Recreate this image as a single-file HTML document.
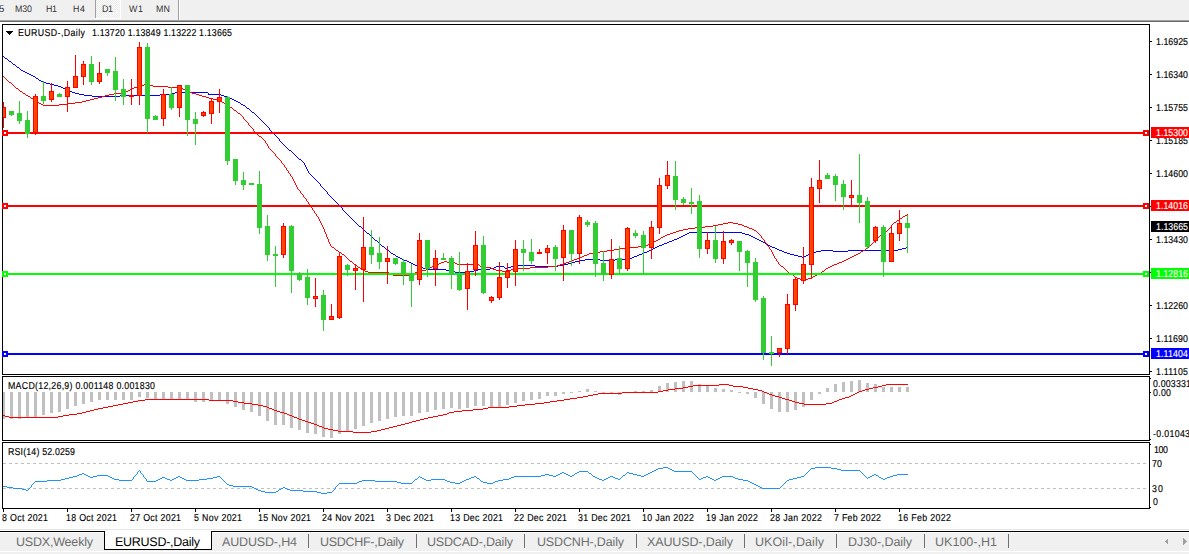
<!DOCTYPE html>
<html><head><meta charset="utf-8"><style>
html,body{margin:0;padding:0;background:#fff;overflow:hidden;}
svg{display:block;font-family:"Liberation Sans", sans-serif;}
text{font-family:"Liberation Sans", sans-serif;text-rendering:geometricPrecision;stroke-width:0.15px;}
</style></head><body>
<svg width="1189" height="554" viewBox="0 0 1189 554" shape-rendering="crispEdges">
<defs><pattern id="dither" x="0" y="0" width="2" height="2" patternUnits="userSpaceOnUse"><rect width="2" height="2" fill="#ffffff"/><rect width="1" height="1" fill="#e8e8e8"/><rect x="1" y="1" width="1" height="1" fill="#e8e8e8"/></pattern></defs>
<rect x="0" y="0" width="1189" height="554" fill="#ffffff"/>
<rect x="0" y="0" width="1189" height="20" fill="#f0f0f0"/>
<rect x="0" y="20" width="1189" height="1" fill="#a0a0a0"/>
<rect x="0" y="21" width="1189" height="1" fill="#696969"/>
<rect x="95" y="0" width="1" height="18" fill="#a0a0a0"/>
<rect x="96" y="0" width="24" height="18" fill="url(#dither)"/>
<rect x="95" y="18" width="26" height="1" fill="#ffffff"/>
<rect x="120" y="0" width="1" height="18" fill="#ffffff"/>
<rect x="178" y="0" width="1" height="20" fill="#a0a0a0"/>
<rect x="179" y="0" width="1" height="20" fill="#ffffff"/>
<text x="-1" y="12" fill="#333333" style="font-size:9.6px;">5</text>
<text transform="translate(15.00,0) scale(0.92,1)" x="0" y="12" fill="#333333" style="font-size:9.6px" textLength="18.48" lengthAdjust="spacing">M30</text>
<text transform="translate(46.00,0) scale(0.92,1)" x="0" y="12" fill="#333333" style="font-size:9.6px" textLength="11.96" lengthAdjust="spacing">H1</text>
<text transform="translate(73.00,0) scale(0.92,1)" x="0" y="12" fill="#333333" style="font-size:9.6px" textLength="13.05" lengthAdjust="spacing">H4</text>
<text transform="translate(102.00,0) scale(0.92,1)" x="0" y="12" fill="#333333" style="font-size:9.6px" textLength="11.96" lengthAdjust="spacing">D1</text>
<text transform="translate(129.00,0) scale(0.92,1)" x="0" y="12" fill="#333333" style="font-size:9.6px" textLength="15.22" lengthAdjust="spacing">W1</text>
<text transform="translate(156.00,0) scale(0.92,1)" x="0" y="12" fill="#333333" style="font-size:9.6px" textLength="15.22" lengthAdjust="spacing">MN</text>
<rect x="2.5" y="24.5" width="1147" height="350" fill="#fff" stroke="#000" stroke-width="1"/>
<rect x="2.5" y="376.5" width="1147" height="64" fill="#fff" stroke="#000" stroke-width="1"/>
<rect x="2.5" y="442.5" width="1147" height="66" fill="#fff" stroke="#000" stroke-width="1"/>
<clipPath id="cm"><rect x="3" y="25" width="1146" height="349"/></clipPath>
<clipPath id="cmacd"><rect x="3" y="377" width="1146" height="63"/></clipPath>
<clipPath id="crsi"><rect x="3" y="443" width="1146" height="65"/></clipPath>
<g clip-path="url(#cm)">
<path d="M3 56h1v1h-1zM4 57h1v1h-1zM5 58h2v1h-2zM7 59h1v1h-1zM8 60h1v1h-1zM9 61h2v1h-2zM11 62h1v1h-1zM12 63h1v1h-1zM13 64h2v1h-2zM15 65h1v1h-1zM16 66h1v1h-1zM17 67h2v1h-2zM19 68h1v1h-1zM20 69h1v1h-1zM21 70h2v1h-2zM23 71h2v1h-2zM25 72h2v1h-2zM27 73h2v1h-2zM29 74h2v1h-2zM31 75h2v1h-2zM33 76h2v1h-2zM35 77h1v1h-1zM36 78h2v1h-2zM38 79h1v1h-1zM39 80h2v1h-2zM41 81h2v1h-2zM43 82h3v1h-3zM46 83h4v1h-4zM50 84h4v1h-4zM54 85h4v1h-4zM58 86h3v1h-3zM61 87h2v1h-2zM63 88h2v1h-2zM65 89h2v1h-2zM67 90h2v1h-2zM69 91h3v1h-3zM72 92h3v1h-3zM175 92h33v1h-33zM75 93h4v1h-4zM172 93h3v1h-3zM208 93h1v1h-1zM79 94h5v1h-5zM160 94h12v1h-12zM208 94h13v1h-13zM84 95h8v1h-8zM120 95h40v1h-40zM221 95h3v1h-3zM92 96h28v1h-28zM224 96h4v1h-4zM228 97h2v1h-2zM230 98h2v1h-2zM232 99h2v1h-2zM234 100h2v1h-2zM236 101h2v1h-2zM238 102h2v1h-2zM240 103h1v1h-1zM241 104h2v1h-2zM243 105h2v1h-2zM245 106h1v1h-1zM246 107h1v1h-1zM247 108h2v1h-2zM249 109h1v1h-1zM250 110h1v1h-1zM251 111h1v1h-1zM252 112h2v1h-2zM254 113h1v1h-1zM255 114h1v1h-1zM256 115h1v1h-1zM257 116h1v1h-1zM258 117h1v1h-1zM259 118h1v1h-1zM260 119h1v1h-1zM261 120h1v1h-1zM262 121h1v1h-1zM263 122h1v1h-1zM264 123h1v1h-1zM265 124h1v1h-1zM266 125h1v1h-1zM267 126h1v1h-1zM268 127h1v1h-1zM269 128h1v1h-1zM269 129h1v1h-1zM270 130h1v1h-1zM271 131h1v1h-1zM272 132h1v1h-1zM273 133h1v1h-1zM274 134h1v1h-1zM275 135h1v1h-1zM276 136h1v1h-1zM277 137h1v1h-1zM278 138h1v1h-1zM279 139h1v1h-1zM279 140h1v1h-1zM280 141h1v1h-1zM281 142h1v1h-1zM282 143h1v1h-1zM283 144h1v1h-1zM284 145h1v1h-1zM285 146h1v1h-1zM286 147h1v1h-1zM287 148h1v1h-1zM288 149h1v1h-1zM289 150h2v1h-2zM291 151h1v1h-1zM292 152h1v1h-1zM293 153h1v1h-1zM294 154h1v1h-1zM295 155h1v1h-1zM296 156h1v1h-1zM297 157h1v1h-1zM298 158h1v1h-1zM299 159h2v1h-2zM301 160h1v1h-1zM302 161h1v1h-1zM303 162h1v1h-1zM304 163h1v1h-1zM304 164h1v1h-1zM305 165h1v1h-1zM305 166h1v1h-1zM306 167h1v1h-1zM306 168h1v1h-1zM307 169h1v1h-1zM307 170h1v1h-1zM308 171h1v1h-1zM308 172h1v1h-1zM309 173h1v1h-1zM310 174h1v1h-1zM311 175h1v1h-1zM312 176h1v1h-1zM313 177h1v1h-1zM314 178h1v1h-1zM315 179h1v1h-1zM316 180h1v1h-1zM317 181h1v1h-1zM318 182h1v1h-1zM319 183h1v1h-1zM320 184h1v1h-1zM320 185h1v1h-1zM321 186h1v1h-1zM322 187h1v1h-1zM323 188h1v1h-1zM324 189h1v1h-1zM325 190h1v1h-1zM326 191h1v1h-1zM327 192h1v1h-1zM327 193h1v1h-1zM328 194h1v1h-1zM329 195h1v1h-1zM330 196h1v1h-1zM331 197h1v1h-1zM332 198h1v1h-1zM333 199h1v1h-1zM334 200h1v1h-1zM335 201h1v1h-1zM336 202h1v1h-1zM337 203h1v1h-1zM338 204h1v1h-1zM339 205h1v1h-1zM340 206h1v1h-1zM341 207h1v1h-1zM342 208h1v1h-1zM342 209h1v1h-1zM343 210h1v1h-1zM344 211h1v1h-1zM345 212h1v1h-1zM346 213h1v1h-1zM347 214h1v1h-1zM348 215h1v1h-1zM349 216h1v1h-1zM350 217h1v1h-1zM351 218h1v1h-1zM352 219h1v1h-1zM353 220h1v1h-1zM354 221h1v1h-1zM355 222h1v1h-1zM356 223h1v1h-1zM357 224h1v1h-1zM358 225h1v1h-1zM359 226h2v1h-2zM361 227h1v1h-1zM362 228h1v1h-1zM363 229h1v1h-1zM364 230h1v1h-1zM365 231h1v1h-1zM366 232h1v1h-1zM689 232h53v1h-53zM367 233h2v1h-2zM687 233h2v1h-2zM742 233h3v1h-3zM369 234h1v1h-1zM685 234h2v1h-2zM745 234h4v1h-4zM370 235h1v1h-1zM683 235h2v1h-2zM749 235h2v1h-2zM371 236h1v1h-1zM681 236h2v1h-2zM751 236h2v1h-2zM372 237h1v1h-1zM679 237h2v1h-2zM753 237h2v1h-2zM373 238h1v1h-1zM677 238h2v1h-2zM755 238h2v1h-2zM374 239h1v1h-1zM674 239h3v1h-3zM757 239h2v1h-2zM375 240h2v1h-2zM672 240h2v1h-2zM759 240h2v1h-2zM377 241h1v1h-1zM669 241h3v1h-3zM761 241h2v1h-2zM378 242h1v1h-1zM667 242h2v1h-2zM763 242h2v1h-2zM379 243h1v1h-1zM664 243h3v1h-3zM765 243h1v1h-1zM380 244h1v1h-1zM662 244h2v1h-2zM766 244h2v1h-2zM381 245h1v1h-1zM659 245h3v1h-3zM768 245h2v1h-2zM382 246h2v1h-2zM657 246h2v1h-2zM770 246h2v1h-2zM384 247h1v1h-1zM655 247h2v1h-2zM772 247h3v1h-3zM906 247h2v1h-2zM385 248h1v1h-1zM653 248h2v1h-2zM775 248h2v1h-2zM902 248h4v1h-4zM386 249h1v1h-1zM651 249h2v1h-2zM777 249h2v1h-2zM898 249h4v1h-4zM387 250h2v1h-2zM649 250h2v1h-2zM779 250h3v1h-3zM821 250h12v1h-12zM848 250h50v1h-50zM389 251h1v1h-1zM647 251h2v1h-2zM782 251h2v1h-2zM816 251h5v1h-5zM833 251h15v1h-15zM390 252h1v1h-1zM644 252h3v1h-3zM784 252h3v1h-3zM813 252h3v1h-3zM391 253h2v1h-2zM642 253h2v1h-2zM787 253h3v1h-3zM811 253h2v1h-2zM393 254h2v1h-2zM639 254h3v1h-3zM790 254h4v1h-4zM808 254h3v1h-3zM395 255h1v1h-1zM637 255h2v1h-2zM794 255h4v1h-4zM806 255h2v1h-2zM396 256h2v1h-2zM634 256h3v1h-3zM798 256h4v1h-4zM804 256h2v1h-2zM398 257h2v1h-2zM632 257h2v1h-2zM802 257h2v1h-2zM400 258h2v1h-2zM625 258h7v1h-7zM402 259h2v1h-2zM585 259h15v1h-15zM615 259h10v1h-10zM404 260h3v1h-3zM579 260h6v1h-6zM600 260h15v1h-15zM407 261h2v1h-2zM575 261h4v1h-4zM409 262h2v1h-2zM572 262h3v1h-3zM411 263h2v1h-2zM568 263h4v1h-4zM413 264h2v1h-2zM563 264h5v1h-5zM415 265h2v1h-2zM516 265h19v1h-19zM558 265h5v1h-5zM417 266h2v1h-2zM496 266h8v1h-8zM511 266h5v1h-5zM535 266h23v1h-23zM419 267h4v1h-4zM494 267h2v1h-2zM504 267h1v1h-1zM508 267h3v1h-3zM423 268h5v1h-5zM490 268h4v1h-4zM505 268h3v1h-3zM428 269h18v1h-18zM478 269h12v1h-12zM446 270h5v1h-5zM474 270h4v1h-4zM451 271h4v1h-4zM470 271h4v1h-4zM455 272h15v1h-15z" fill="#0000ff"/>
<path d="M3 76h1v1h-1zM4 77h1v1h-1zM5 78h1v1h-1zM6 79h1v1h-1zM7 80h1v1h-1zM8 81h1v1h-1zM9 82h2v1h-2zM11 83h1v1h-1zM12 84h1v1h-1zM144 84h4v1h-4zM13 85h1v1h-1zM140 85h4v1h-4zM148 85h5v1h-5zM14 86h1v1h-1zM137 86h3v1h-3zM153 86h15v1h-15zM15 87h1v1h-1zM134 87h3v1h-3zM168 87h12v1h-12zM16 88h2v1h-2zM132 88h2v1h-2zM180 88h3v1h-3zM18 89h1v1h-1zM130 89h2v1h-2zM183 89h2v1h-2zM19 90h1v1h-1zM128 90h2v1h-2zM185 90h2v1h-2zM20 91h2v1h-2zM126 91h2v1h-2zM187 91h2v1h-2zM22 92h1v1h-1zM122 92h4v1h-4zM189 92h3v1h-3zM23 93h2v1h-2zM114 93h8v1h-8zM192 93h4v1h-4zM25 94h1v1h-1zM109 94h5v1h-5zM196 94h3v1h-3zM26 95h2v1h-2zM105 95h4v1h-4zM199 95h3v1h-3zM28 96h2v1h-2zM102 96h3v1h-3zM202 96h4v1h-4zM30 97h1v1h-1zM98 97h4v1h-4zM206 97h3v1h-3zM31 98h2v1h-2zM94 98h4v1h-4zM209 98h4v1h-4zM33 99h2v1h-2zM90 99h4v1h-4zM213 99h4v1h-4zM35 100h1v1h-1zM86 100h4v1h-4zM217 100h3v1h-3zM36 101h2v1h-2zM82 101h4v1h-4zM220 101h2v1h-2zM38 102h1v1h-1zM75 102h7v1h-7zM222 102h2v1h-2zM39 103h2v1h-2zM67 103h8v1h-8zM224 103h2v1h-2zM41 104h2v1h-2zM59 104h8v1h-8zM226 104h2v1h-2zM43 105h16v1h-16zM228 105h1v1h-1zM229 106h1v1h-1zM230 107h2v1h-2zM232 108h1v1h-1zM233 109h1v1h-1zM234 110h2v1h-2zM236 111h1v1h-1zM237 112h1v1h-1zM238 113h2v1h-2zM240 114h1v1h-1zM241 115h1v1h-1zM242 116h1v1h-1zM243 117h1v1h-1zM243 118h1v1h-1zM244 119h1v1h-1zM245 120h1v1h-1zM246 121h1v1h-1zM247 122h1v1h-1zM248 123h1v1h-1zM248 124h1v1h-1zM249 125h1v1h-1zM250 126h1v1h-1zM251 127h1v1h-1zM252 128h1v1h-1zM253 129h1v1h-1zM253 130h1v1h-1zM254 131h1v1h-1zM255 132h1v1h-1zM256 133h1v1h-1zM257 134h1v1h-1zM258 135h1v1h-1zM259 136h2v1h-2zM261 137h1v1h-1zM262 138h1v1h-1zM263 139h1v1h-1zM264 140h1v1h-1zM265 141h1v1h-1zM265 142h1v1h-1zM266 143h1v1h-1zM267 144h1v1h-1zM267 145h1v1h-1zM268 146h1v1h-1zM268 147h1v1h-1zM269 148h1v1h-1zM270 149h1v1h-1zM271 150h1v1h-1zM272 151h1v1h-1zM273 152h1v1h-1zM274 153h1v1h-1zM275 154h1v1h-1zM275 155h1v1h-1zM276 156h1v1h-1zM277 157h1v1h-1zM278 158h1v1h-1zM279 159h1v1h-1zM280 160h1v1h-1zM281 161h1v1h-1zM281 162h1v1h-1zM282 163h1v1h-1zM283 164h1v1h-1zM284 165h1v1h-1zM284 166h1v1h-1zM285 167h1v1h-1zM286 168h1v1h-1zM286 169h1v1h-1zM287 170h1v1h-1zM288 171h1v1h-1zM288 172h1v1h-1zM289 173h1v1h-1zM290 174h1v1h-1zM290 175h1v1h-1zM291 176h1v1h-1zM292 177h1v1h-1zM292 178h1v1h-1zM293 179h1v1h-1zM293 180h1v1h-1zM294 181h1v1h-1zM294 182h1v1h-1zM295 183h1v1h-1zM295 184h1v1h-1zM296 185h1v1h-1zM296 186h1v1h-1zM297 187h1v1h-1zM297 188h1v1h-1zM298 189h1v1h-1zM299 190h1v1h-1zM300 191h1v1h-1zM300 192h1v1h-1zM301 193h1v1h-1zM302 194h1v1h-1zM303 195h1v1h-1zM303 196h1v1h-1zM304 197h1v1h-1zM305 198h1v1h-1zM306 199h1v1h-1zM306 200h1v1h-1zM307 201h1v1h-1zM308 202h1v1h-1zM308 203h1v1h-1zM309 204h1v1h-1zM310 205h1v1h-1zM310 206h1v1h-1zM311 207h1v1h-1zM312 208h1v1h-1zM312 209h1v1h-1zM313 210h1v1h-1zM314 211h1v1h-1zM314 212h1v1h-1zM315 213h1v1h-1zM316 214h1v1h-1zM907 214h1v1h-1zM316 215h1v1h-1zM905 215h2v1h-2zM317 216h1v1h-1zM903 216h2v1h-2zM318 217h1v1h-1zM902 217h1v1h-1zM318 218h1v1h-1zM900 218h2v1h-2zM319 219h1v1h-1zM899 219h1v1h-1zM319 220h1v1h-1zM897 220h2v1h-2zM320 221h1v1h-1zM896 221h1v1h-1zM320 222h1v1h-1zM728 222h5v1h-5zM894 222h2v1h-2zM321 223h1v1h-1zM723 223h5v1h-5zM733 223h5v1h-5zM893 223h1v1h-1zM321 224h1v1h-1zM718 224h5v1h-5zM738 224h4v1h-4zM892 224h1v1h-1zM322 225h1v1h-1zM713 225h5v1h-5zM742 225h2v1h-2zM891 225h1v1h-1zM322 226h1v1h-1zM705 226h8v1h-8zM744 226h3v1h-3zM891 226h1v1h-1zM323 227h1v1h-1zM695 227h10v1h-10zM747 227h2v1h-2zM890 227h1v1h-1zM323 228h1v1h-1zM688 228h7v1h-7zM749 228h3v1h-3zM889 228h1v1h-1zM324 229h1v1h-1zM683 229h5v1h-5zM752 229h2v1h-2zM888 229h1v1h-1zM324 230h1v1h-1zM679 230h4v1h-4zM754 230h2v1h-2zM887 230h1v1h-1zM324 231h1v1h-1zM676 231h3v1h-3zM756 231h1v1h-1zM885 231h2v1h-2zM325 232h1v1h-1zM673 232h3v1h-3zM757 232h1v1h-1zM884 232h1v1h-1zM325 233h1v1h-1zM670 233h3v1h-3zM758 233h1v1h-1zM883 233h1v1h-1zM326 234h1v1h-1zM667 234h3v1h-3zM759 234h1v1h-1zM881 234h2v1h-2zM326 235h1v1h-1zM665 235h2v1h-2zM760 235h1v1h-1zM880 235h1v1h-1zM326 236h1v1h-1zM663 236h2v1h-2zM761 236h1v1h-1zM879 236h1v1h-1zM327 237h1v1h-1zM661 237h2v1h-2zM761 237h1v1h-1zM878 237h1v1h-1zM327 238h1v1h-1zM660 238h1v1h-1zM762 238h1v1h-1zM877 238h1v1h-1zM328 239h1v1h-1zM658 239h2v1h-2zM763 239h1v1h-1zM876 239h1v1h-1zM328 240h1v1h-1zM656 240h2v1h-2zM764 240h1v1h-1zM875 240h1v1h-1zM328 241h1v1h-1zM654 241h2v1h-2zM764 241h1v1h-1zM874 241h1v1h-1zM329 242h1v1h-1zM652 242h2v1h-2zM765 242h1v1h-1zM873 242h1v1h-1zM329 243h1v1h-1zM650 243h2v1h-2zM766 243h1v1h-1zM872 243h1v1h-1zM330 244h1v1h-1zM648 244h2v1h-2zM766 244h1v1h-1zM871 244h1v1h-1zM330 245h1v1h-1zM646 245h2v1h-2zM767 245h1v1h-1zM870 245h1v1h-1zM331 246h1v1h-1zM638 246h8v1h-8zM768 246h1v1h-1zM869 246h1v1h-1zM332 247h2v1h-2zM627 247h11v1h-11zM769 247h1v1h-1zM868 247h1v1h-1zM334 248h1v1h-1zM620 248h7v1h-7zM769 248h1v1h-1zM866 248h2v1h-2zM335 249h1v1h-1zM614 249h6v1h-6zM770 249h1v1h-1zM865 249h1v1h-1zM336 250h2v1h-2zM607 250h7v1h-7zM771 250h1v1h-1zM863 250h2v1h-2zM338 251h1v1h-1zM600 251h7v1h-7zM771 251h1v1h-1zM861 251h2v1h-2zM339 252h2v1h-2zM594 252h6v1h-6zM772 252h1v1h-1zM860 252h1v1h-1zM341 253h1v1h-1zM589 253h5v1h-5zM772 253h1v1h-1zM858 253h2v1h-2zM342 254h2v1h-2zM587 254h2v1h-2zM773 254h1v1h-1zM856 254h2v1h-2zM344 255h1v1h-1zM584 255h3v1h-3zM773 255h1v1h-1zM854 255h2v1h-2zM345 256h1v1h-1zM582 256h2v1h-2zM774 256h1v1h-1zM852 256h2v1h-2zM346 257h1v1h-1zM579 257h3v1h-3zM774 257h1v1h-1zM850 257h2v1h-2zM347 258h1v1h-1zM577 258h2v1h-2zM775 258h1v1h-1zM848 258h2v1h-2zM348 259h1v1h-1zM574 259h3v1h-3zM776 259h1v1h-1zM846 259h2v1h-2zM349 260h1v1h-1zM572 260h2v1h-2zM776 260h1v1h-1zM844 260h2v1h-2zM350 261h2v1h-2zM444 261h3v1h-3zM569 261h3v1h-3zM777 261h1v1h-1zM842 261h2v1h-2zM352 262h1v1h-1zM441 262h3v1h-3zM447 262h8v1h-8zM566 262h3v1h-3zM778 262h1v1h-1zM839 262h3v1h-3zM353 263h1v1h-1zM439 263h2v1h-2zM455 263h2v1h-2zM563 263h3v1h-3zM778 263h1v1h-1zM837 263h2v1h-2zM354 264h2v1h-2zM437 264h2v1h-2zM457 264h22v1h-22zM560 264h3v1h-3zM779 264h1v1h-1zM834 264h3v1h-3zM356 265h1v1h-1zM434 265h3v1h-3zM479 265h1v1h-1zM557 265h3v1h-3zM780 265h1v1h-1zM832 265h2v1h-2zM357 266h1v1h-1zM432 266h2v1h-2zM480 266h3v1h-3zM548 266h9v1h-9zM781 266h2v1h-2zM830 266h2v1h-2zM358 267h2v1h-2zM430 267h2v1h-2zM483 267h8v1h-8zM530 267h18v1h-18zM783 267h1v1h-1zM828 267h2v1h-2zM360 268h1v1h-1zM428 268h2v1h-2zM491 268h2v1h-2zM517 268h13v1h-13zM784 268h1v1h-1zM826 268h2v1h-2zM361 269h2v1h-2zM426 269h2v1h-2zM493 269h3v1h-3zM511 269h6v1h-6zM785 269h1v1h-1zM825 269h1v1h-1zM363 270h2v1h-2zM421 270h5v1h-5zM496 270h6v1h-6zM506 270h5v1h-5zM786 270h1v1h-1zM824 270h1v1h-1zM365 271h3v1h-3zM418 271h3v1h-3zM502 271h4v1h-4zM787 271h1v1h-1zM822 271h2v1h-2zM368 272h21v1h-21zM415 272h3v1h-3zM788 272h1v1h-1zM821 272h1v1h-1zM389 273h2v1h-2zM413 273h2v1h-2zM789 273h2v1h-2zM819 273h2v1h-2zM391 274h2v1h-2zM411 274h2v1h-2zM791 274h2v1h-2zM817 274h2v1h-2zM393 275h18v1h-18zM793 275h1v1h-1zM815 275h2v1h-2zM794 276h1v1h-1zM813 276h2v1h-2zM795 277h2v1h-2zM811 277h2v1h-2zM797 278h3v1h-3zM808 278h3v1h-3zM800 279h8v1h-8z" fill="#ff0000"/>
<rect x="2" y="132" width="1147" height="2" fill="#ff0000"/>
<rect x="2" y="205" width="1147" height="2" fill="#ff0000"/>
<rect x="2" y="273" width="1147" height="2" fill="#00ff00"/>
<rect x="2" y="353" width="1147" height="2" fill="#0000ff"/>
<rect x="3" y="102" width="1" height="26" fill="#ff0000"/>
<rect x="1" y="107" width="5" height="11" fill="#ff0000"/>
<rect x="2" y="108" width="3" height="9" fill="#ff4500"/>
<rect x="11" y="111" width="1" height="5" fill="#32cd32"/>
<rect x="9" y="111" width="5" height="4" fill="#32cd32"/>
<rect x="19" y="101" width="1" height="23" fill="#32cd32"/>
<rect x="17" y="113" width="5" height="8" fill="#32cd32"/>
<rect x="27" y="111" width="1" height="27" fill="#32cd32"/>
<rect x="25" y="120" width="5" height="14" fill="#32cd32"/>
<rect x="35" y="94" width="1" height="41" fill="#ff0000"/>
<rect x="33" y="96" width="5" height="37" fill="#ff0000"/>
<rect x="34" y="97" width="3" height="35" fill="#ff4500"/>
<rect x="43" y="81" width="1" height="23" fill="#32cd32"/>
<rect x="41" y="96" width="5" height="5" fill="#32cd32"/>
<rect x="51" y="83" width="1" height="19" fill="#ff0000"/>
<rect x="49" y="91" width="5" height="9" fill="#ff0000"/>
<rect x="50" y="92" width="3" height="7" fill="#ff4500"/>
<rect x="59" y="93" width="1" height="4" fill="#32cd32"/>
<rect x="57" y="94" width="5" height="3" fill="#32cd32"/>
<rect x="67" y="81" width="1" height="31" fill="#ff0000"/>
<rect x="65" y="87" width="5" height="10" fill="#ff0000"/>
<rect x="66" y="88" width="3" height="8" fill="#ff4500"/>
<rect x="75" y="55" width="1" height="33" fill="#ff0000"/>
<rect x="73" y="76" width="5" height="12" fill="#ff0000"/>
<rect x="74" y="77" width="3" height="10" fill="#ff4500"/>
<rect x="83" y="61" width="1" height="24" fill="#ff0000"/>
<rect x="81" y="64" width="5" height="13" fill="#ff0000"/>
<rect x="82" y="65" width="3" height="11" fill="#ff4500"/>
<rect x="91" y="56" width="1" height="29" fill="#32cd32"/>
<rect x="89" y="64" width="5" height="18" fill="#32cd32"/>
<rect x="99" y="62" width="1" height="22" fill="#ff0000"/>
<rect x="97" y="73" width="5" height="9" fill="#ff0000"/>
<rect x="98" y="74" width="3" height="7" fill="#ff4500"/>
<rect x="107" y="69" width="1" height="7" fill="#32cd32"/>
<rect x="105" y="69" width="5" height="4" fill="#32cd32"/>
<rect x="115" y="57" width="1" height="44" fill="#32cd32"/>
<rect x="113" y="71" width="5" height="19" fill="#32cd32"/>
<rect x="123" y="79" width="1" height="26" fill="#32cd32"/>
<rect x="121" y="89" width="5" height="8" fill="#32cd32"/>
<rect x="131" y="79" width="1" height="26" fill="#ff0000"/>
<rect x="129" y="95" width="5" height="2" fill="#ff0000"/>
<rect x="139" y="42" width="1" height="63" fill="#ff0000"/>
<rect x="137" y="47" width="5" height="49" fill="#ff0000"/>
<rect x="138" y="48" width="3" height="47" fill="#ff4500"/>
<rect x="147" y="43" width="1" height="90" fill="#32cd32"/>
<rect x="145" y="47" width="5" height="72" fill="#32cd32"/>
<rect x="155" y="115" width="1" height="5" fill="#32cd32"/>
<rect x="153" y="116" width="5" height="4" fill="#32cd32"/>
<rect x="163" y="89" width="1" height="37" fill="#ff0000"/>
<rect x="161" y="94" width="5" height="25" fill="#ff0000"/>
<rect x="162" y="95" width="3" height="23" fill="#ff4500"/>
<rect x="171" y="87" width="1" height="23" fill="#32cd32"/>
<rect x="169" y="94" width="5" height="14" fill="#32cd32"/>
<rect x="179" y="85" width="1" height="32" fill="#ff0000"/>
<rect x="177" y="85" width="5" height="23" fill="#ff0000"/>
<rect x="178" y="86" width="3" height="21" fill="#ff4500"/>
<rect x="187" y="85" width="1" height="51" fill="#32cd32"/>
<rect x="185" y="85" width="5" height="35" fill="#32cd32"/>
<rect x="195" y="112" width="1" height="33" fill="#32cd32"/>
<rect x="193" y="119" width="5" height="5" fill="#32cd32"/>
<rect x="203" y="111" width="1" height="6" fill="#ff0000"/>
<rect x="201" y="112" width="5" height="4" fill="#ff0000"/>
<rect x="202" y="113" width="3" height="2" fill="#ff4500"/>
<rect x="211" y="98" width="1" height="26" fill="#ff0000"/>
<rect x="209" y="101" width="5" height="13" fill="#ff0000"/>
<rect x="210" y="102" width="3" height="11" fill="#ff4500"/>
<rect x="219" y="89" width="1" height="24" fill="#ff0000"/>
<rect x="217" y="97" width="5" height="5" fill="#ff0000"/>
<rect x="218" y="98" width="3" height="3" fill="#ff4500"/>
<rect x="227" y="96" width="1" height="69" fill="#32cd32"/>
<rect x="225" y="97" width="5" height="64" fill="#32cd32"/>
<rect x="235" y="159" width="1" height="26" fill="#32cd32"/>
<rect x="233" y="159" width="5" height="22" fill="#32cd32"/>
<rect x="243" y="172" width="1" height="18" fill="#32cd32"/>
<rect x="241" y="180" width="5" height="5" fill="#32cd32"/>
<rect x="251" y="183" width="1" height="2" fill="#32cd32"/>
<rect x="249" y="183" width="5" height="2" fill="#32cd32"/>
<rect x="259" y="171" width="1" height="63" fill="#32cd32"/>
<rect x="257" y="184" width="5" height="44" fill="#32cd32"/>
<rect x="267" y="215" width="1" height="46" fill="#32cd32"/>
<rect x="265" y="226" width="5" height="29" fill="#32cd32"/>
<rect x="275" y="246" width="1" height="41" fill="#32cd32"/>
<rect x="273" y="254" width="5" height="2" fill="#32cd32"/>
<rect x="283" y="223" width="1" height="35" fill="#ff0000"/>
<rect x="281" y="226" width="5" height="29" fill="#ff0000"/>
<rect x="282" y="227" width="3" height="27" fill="#ff4500"/>
<rect x="291" y="225" width="1" height="68" fill="#32cd32"/>
<rect x="289" y="226" width="5" height="45" fill="#32cd32"/>
<rect x="299" y="272" width="1" height="9" fill="#32cd32"/>
<rect x="297" y="273" width="5" height="7" fill="#32cd32"/>
<rect x="307" y="269" width="1" height="36" fill="#32cd32"/>
<rect x="305" y="277" width="5" height="21" fill="#32cd32"/>
<rect x="315" y="278" width="1" height="29" fill="#ff0000"/>
<rect x="313" y="296" width="5" height="3" fill="#ff0000"/>
<rect x="314" y="297" width="3" height="1" fill="#ff4500"/>
<rect x="323" y="290" width="1" height="41" fill="#32cd32"/>
<rect x="321" y="295" width="5" height="25" fill="#32cd32"/>
<rect x="331" y="304" width="1" height="16" fill="#ff0000"/>
<rect x="329" y="316" width="5" height="4" fill="#ff0000"/>
<rect x="330" y="317" width="3" height="2" fill="#ff4500"/>
<rect x="339" y="253" width="1" height="66" fill="#ff0000"/>
<rect x="337" y="256" width="5" height="62" fill="#ff0000"/>
<rect x="338" y="257" width="3" height="60" fill="#ff4500"/>
<rect x="347" y="264" width="1" height="12" fill="#32cd32"/>
<rect x="345" y="265" width="5" height="5" fill="#32cd32"/>
<rect x="355" y="265" width="1" height="25" fill="#ff0000"/>
<rect x="353" y="268" width="5" height="3" fill="#ff0000"/>
<rect x="354" y="269" width="3" height="1" fill="#ff4500"/>
<rect x="363" y="217" width="1" height="85" fill="#ff0000"/>
<rect x="361" y="247" width="5" height="23" fill="#ff0000"/>
<rect x="362" y="248" width="3" height="21" fill="#ff4500"/>
<rect x="371" y="230" width="1" height="34" fill="#32cd32"/>
<rect x="369" y="247" width="5" height="8" fill="#32cd32"/>
<rect x="379" y="237" width="1" height="32" fill="#32cd32"/>
<rect x="377" y="253" width="5" height="9" fill="#32cd32"/>
<rect x="387" y="246" width="1" height="38" fill="#ff0000"/>
<rect x="385" y="258" width="5" height="4" fill="#ff0000"/>
<rect x="386" y="259" width="3" height="2" fill="#ff4500"/>
<rect x="395" y="258" width="1" height="7" fill="#32cd32"/>
<rect x="393" y="258" width="5" height="6" fill="#32cd32"/>
<rect x="403" y="259" width="1" height="26" fill="#32cd32"/>
<rect x="401" y="262" width="5" height="12" fill="#32cd32"/>
<rect x="411" y="264" width="1" height="43" fill="#32cd32"/>
<rect x="409" y="273" width="5" height="8" fill="#32cd32"/>
<rect x="419" y="233" width="1" height="52" fill="#ff0000"/>
<rect x="417" y="240" width="5" height="40" fill="#ff0000"/>
<rect x="418" y="241" width="3" height="38" fill="#ff4500"/>
<rect x="427" y="240" width="1" height="37" fill="#32cd32"/>
<rect x="425" y="240" width="5" height="29" fill="#32cd32"/>
<rect x="435" y="250" width="1" height="36" fill="#ff0000"/>
<rect x="433" y="258" width="5" height="11" fill="#ff0000"/>
<rect x="434" y="259" width="3" height="9" fill="#ff4500"/>
<rect x="443" y="253" width="1" height="7" fill="#32cd32"/>
<rect x="441" y="258" width="5" height="2" fill="#32cd32"/>
<rect x="451" y="256" width="1" height="33" fill="#32cd32"/>
<rect x="449" y="258" width="5" height="17" fill="#32cd32"/>
<rect x="459" y="252" width="1" height="39" fill="#32cd32"/>
<rect x="457" y="274" width="5" height="16" fill="#32cd32"/>
<rect x="467" y="263" width="1" height="47" fill="#ff0000"/>
<rect x="465" y="271" width="5" height="18" fill="#ff0000"/>
<rect x="466" y="272" width="3" height="16" fill="#ff4500"/>
<rect x="475" y="231" width="1" height="45" fill="#ff0000"/>
<rect x="473" y="245" width="5" height="25" fill="#ff0000"/>
<rect x="474" y="246" width="3" height="23" fill="#ff4500"/>
<rect x="483" y="236" width="1" height="58" fill="#32cd32"/>
<rect x="481" y="245" width="5" height="48" fill="#32cd32"/>
<rect x="491" y="296" width="1" height="7" fill="#ff0000"/>
<rect x="489" y="297" width="5" height="4" fill="#ff0000"/>
<rect x="490" y="298" width="3" height="2" fill="#ff4500"/>
<rect x="499" y="262" width="1" height="38" fill="#ff0000"/>
<rect x="497" y="277" width="5" height="21" fill="#ff0000"/>
<rect x="498" y="278" width="3" height="19" fill="#ff4500"/>
<rect x="507" y="263" width="1" height="25" fill="#ff0000"/>
<rect x="505" y="271" width="5" height="7" fill="#ff0000"/>
<rect x="506" y="272" width="3" height="5" fill="#ff4500"/>
<rect x="515" y="240" width="1" height="46" fill="#ff0000"/>
<rect x="513" y="249" width="5" height="23" fill="#ff0000"/>
<rect x="514" y="250" width="3" height="21" fill="#ff4500"/>
<rect x="523" y="240" width="1" height="31" fill="#32cd32"/>
<rect x="521" y="249" width="5" height="4" fill="#32cd32"/>
<rect x="531" y="239" width="1" height="25" fill="#32cd32"/>
<rect x="529" y="252" width="5" height="9" fill="#32cd32"/>
<rect x="539" y="249" width="1" height="5" fill="#ff0000"/>
<rect x="537" y="252" width="5" height="2" fill="#ff0000"/>
<rect x="547" y="245" width="1" height="19" fill="#ff0000"/>
<rect x="545" y="248" width="5" height="5" fill="#ff0000"/>
<rect x="546" y="249" width="3" height="3" fill="#ff4500"/>
<rect x="555" y="245" width="1" height="26" fill="#32cd32"/>
<rect x="553" y="247" width="5" height="12" fill="#32cd32"/>
<rect x="563" y="225" width="1" height="56" fill="#ff0000"/>
<rect x="561" y="230" width="5" height="28" fill="#ff0000"/>
<rect x="562" y="231" width="3" height="26" fill="#ff4500"/>
<rect x="571" y="230" width="1" height="36" fill="#32cd32"/>
<rect x="569" y="230" width="5" height="24" fill="#32cd32"/>
<rect x="579" y="215" width="1" height="49" fill="#ff0000"/>
<rect x="577" y="217" width="5" height="37" fill="#ff0000"/>
<rect x="578" y="218" width="3" height="35" fill="#ff4500"/>
<rect x="587" y="220" width="1" height="7" fill="#32cd32"/>
<rect x="585" y="222" width="5" height="3" fill="#32cd32"/>
<rect x="595" y="221" width="1" height="56" fill="#32cd32"/>
<rect x="593" y="223" width="5" height="41" fill="#32cd32"/>
<rect x="603" y="251" width="1" height="30" fill="#32cd32"/>
<rect x="601" y="263" width="5" height="12" fill="#32cd32"/>
<rect x="611" y="239" width="1" height="40" fill="#ff0000"/>
<rect x="609" y="259" width="5" height="16" fill="#ff0000"/>
<rect x="610" y="260" width="3" height="14" fill="#ff4500"/>
<rect x="619" y="246" width="1" height="28" fill="#32cd32"/>
<rect x="617" y="258" width="5" height="11" fill="#32cd32"/>
<rect x="627" y="227" width="1" height="44" fill="#ff0000"/>
<rect x="625" y="228" width="5" height="41" fill="#ff0000"/>
<rect x="626" y="229" width="3" height="39" fill="#ff4500"/>
<rect x="635" y="230" width="1" height="8" fill="#32cd32"/>
<rect x="633" y="233" width="5" height="3" fill="#32cd32"/>
<rect x="643" y="231" width="1" height="44" fill="#32cd32"/>
<rect x="641" y="235" width="5" height="13" fill="#32cd32"/>
<rect x="651" y="221" width="1" height="38" fill="#ff0000"/>
<rect x="649" y="227" width="5" height="21" fill="#ff0000"/>
<rect x="650" y="228" width="3" height="19" fill="#ff4500"/>
<rect x="659" y="178" width="1" height="56" fill="#ff0000"/>
<rect x="657" y="185" width="5" height="43" fill="#ff0000"/>
<rect x="658" y="186" width="3" height="41" fill="#ff4500"/>
<rect x="667" y="161" width="1" height="28" fill="#ff0000"/>
<rect x="665" y="175" width="5" height="11" fill="#ff0000"/>
<rect x="666" y="176" width="3" height="9" fill="#ff4500"/>
<rect x="675" y="161" width="1" height="49" fill="#32cd32"/>
<rect x="673" y="176" width="5" height="24" fill="#32cd32"/>
<rect x="683" y="197" width="1" height="8" fill="#32cd32"/>
<rect x="681" y="199" width="5" height="4" fill="#32cd32"/>
<rect x="691" y="188" width="1" height="26" fill="#32cd32"/>
<rect x="689" y="202" width="5" height="2" fill="#32cd32"/>
<rect x="699" y="195" width="1" height="63" fill="#32cd32"/>
<rect x="697" y="201" width="5" height="48" fill="#32cd32"/>
<rect x="707" y="232" width="1" height="22" fill="#ff0000"/>
<rect x="705" y="240" width="5" height="9" fill="#ff0000"/>
<rect x="706" y="241" width="3" height="7" fill="#ff4500"/>
<rect x="715" y="226" width="1" height="37" fill="#32cd32"/>
<rect x="713" y="240" width="5" height="19" fill="#32cd32"/>
<rect x="723" y="231" width="1" height="33" fill="#ff0000"/>
<rect x="721" y="241" width="5" height="18" fill="#ff0000"/>
<rect x="722" y="242" width="3" height="16" fill="#ff4500"/>
<rect x="731" y="239" width="1" height="6" fill="#ff0000"/>
<rect x="729" y="240" width="5" height="3" fill="#ff0000"/>
<rect x="730" y="241" width="3" height="1" fill="#ff4500"/>
<rect x="739" y="241" width="1" height="30" fill="#32cd32"/>
<rect x="737" y="241" width="5" height="11" fill="#32cd32"/>
<rect x="747" y="250" width="1" height="37" fill="#32cd32"/>
<rect x="745" y="251" width="5" height="12" fill="#32cd32"/>
<rect x="755" y="258" width="1" height="44" fill="#32cd32"/>
<rect x="753" y="262" width="5" height="38" fill="#32cd32"/>
<rect x="763" y="296" width="1" height="64" fill="#32cd32"/>
<rect x="761" y="298" width="5" height="55" fill="#32cd32"/>
<rect x="771" y="336" width="1" height="30" fill="#32cd32"/>
<rect x="769" y="352" width="5" height="2" fill="#32cd32"/>
<rect x="779" y="348" width="1" height="9" fill="#ff0000"/>
<rect x="777" y="348" width="5" height="5" fill="#ff0000"/>
<rect x="778" y="349" width="3" height="3" fill="#ff4500"/>
<rect x="787" y="294" width="1" height="60" fill="#ff0000"/>
<rect x="785" y="304" width="5" height="45" fill="#ff0000"/>
<rect x="786" y="305" width="3" height="43" fill="#ff4500"/>
<rect x="795" y="278" width="1" height="33" fill="#ff0000"/>
<rect x="793" y="279" width="5" height="26" fill="#ff0000"/>
<rect x="794" y="280" width="3" height="24" fill="#ff4500"/>
<rect x="803" y="247" width="1" height="37" fill="#ff0000"/>
<rect x="801" y="264" width="5" height="17" fill="#ff0000"/>
<rect x="802" y="265" width="3" height="15" fill="#ff4500"/>
<rect x="811" y="178" width="1" height="101" fill="#ff0000"/>
<rect x="809" y="187" width="5" height="78" fill="#ff0000"/>
<rect x="810" y="188" width="3" height="76" fill="#ff4500"/>
<rect x="819" y="160" width="1" height="43" fill="#ff0000"/>
<rect x="817" y="180" width="5" height="9" fill="#ff0000"/>
<rect x="818" y="181" width="3" height="7" fill="#ff4500"/>
<rect x="827" y="173" width="1" height="6" fill="#32cd32"/>
<rect x="825" y="175" width="5" height="4" fill="#32cd32"/>
<rect x="835" y="174" width="1" height="27" fill="#32cd32"/>
<rect x="833" y="176" width="5" height="9" fill="#32cd32"/>
<rect x="843" y="180" width="1" height="30" fill="#32cd32"/>
<rect x="841" y="184" width="5" height="13" fill="#32cd32"/>
<rect x="851" y="180" width="1" height="27" fill="#ff0000"/>
<rect x="849" y="195" width="5" height="3" fill="#ff0000"/>
<rect x="850" y="196" width="3" height="1" fill="#ff4500"/>
<rect x="859" y="154" width="1" height="69" fill="#32cd32"/>
<rect x="857" y="195" width="5" height="8" fill="#32cd32"/>
<rect x="867" y="197" width="1" height="52" fill="#32cd32"/>
<rect x="865" y="201" width="5" height="46" fill="#32cd32"/>
<rect x="875" y="226" width="1" height="17" fill="#ff0000"/>
<rect x="873" y="227" width="5" height="14" fill="#ff0000"/>
<rect x="874" y="228" width="3" height="12" fill="#ff4500"/>
<rect x="883" y="225" width="1" height="52" fill="#32cd32"/>
<rect x="881" y="227" width="5" height="35" fill="#32cd32"/>
<rect x="891" y="225" width="1" height="37" fill="#ff0000"/>
<rect x="889" y="233" width="5" height="29" fill="#ff0000"/>
<rect x="890" y="234" width="3" height="27" fill="#ff4500"/>
<rect x="899" y="210" width="1" height="31" fill="#ff0000"/>
<rect x="897" y="223" width="5" height="11" fill="#ff0000"/>
<rect x="898" y="224" width="3" height="9" fill="#ff4500"/>
<rect x="907" y="215" width="1" height="38" fill="#32cd32"/>
<rect x="905" y="223" width="5" height="5" fill="#32cd32"/>
</g>
<rect x="2" y="130" width="6" height="6" fill="#ff0000"/>
<rect x="4" y="132" width="2" height="2" fill="#ffffff"/>
<rect x="1143" y="130" width="6" height="6" fill="#ff0000"/>
<rect x="1145" y="132" width="2" height="2" fill="#ffffff"/>
<rect x="2" y="203" width="6" height="6" fill="#ff0000"/>
<rect x="4" y="205" width="2" height="2" fill="#ffffff"/>
<rect x="1143" y="203" width="6" height="6" fill="#ff0000"/>
<rect x="1145" y="205" width="2" height="2" fill="#ffffff"/>
<rect x="2" y="271" width="6" height="6" fill="#00ff00"/>
<rect x="4" y="273" width="2" height="2" fill="#ffffff"/>
<rect x="1143" y="271" width="6" height="6" fill="#00ff00"/>
<rect x="1145" y="273" width="2" height="2" fill="#ffffff"/>
<rect x="2" y="351" width="6" height="6" fill="#0000ff"/>
<rect x="4" y="353" width="2" height="2" fill="#ffffff"/>
<rect x="1143" y="351" width="6" height="6" fill="#0000ff"/>
<rect x="1145" y="353" width="2" height="2" fill="#ffffff"/>
<g clip-path="url(#cmacd)">
<rect x="2" y="392" width="3" height="27" fill="#c0c0c0"/>
<rect x="10" y="392" width="3" height="27" fill="#c0c0c0"/>
<rect x="18" y="392" width="3" height="27" fill="#c0c0c0"/>
<rect x="26" y="392" width="3" height="26" fill="#c0c0c0"/>
<rect x="34" y="392" width="3" height="25" fill="#c0c0c0"/>
<rect x="42" y="392" width="3" height="23" fill="#c0c0c0"/>
<rect x="50" y="392" width="3" height="21" fill="#c0c0c0"/>
<rect x="58" y="392" width="3" height="20" fill="#c0c0c0"/>
<rect x="66" y="392" width="3" height="17" fill="#c0c0c0"/>
<rect x="74" y="392" width="3" height="14" fill="#c0c0c0"/>
<rect x="82" y="392" width="3" height="12" fill="#c0c0c0"/>
<rect x="90" y="392" width="3" height="10" fill="#c0c0c0"/>
<rect x="98" y="392" width="3" height="8" fill="#c0c0c0"/>
<rect x="106" y="392" width="3" height="8" fill="#c0c0c0"/>
<rect x="114" y="392" width="3" height="8" fill="#c0c0c0"/>
<rect x="122" y="392" width="3" height="8" fill="#c0c0c0"/>
<rect x="130" y="392" width="3" height="8" fill="#c0c0c0"/>
<rect x="138" y="392" width="3" height="5" fill="#c0c0c0"/>
<rect x="146" y="392" width="3" height="6" fill="#c0c0c0"/>
<rect x="154" y="392" width="3" height="8" fill="#c0c0c0"/>
<rect x="162" y="392" width="3" height="7" fill="#c0c0c0"/>
<rect x="170" y="392" width="3" height="8" fill="#c0c0c0"/>
<rect x="178" y="392" width="3" height="7" fill="#c0c0c0"/>
<rect x="186" y="392" width="3" height="8" fill="#c0c0c0"/>
<rect x="194" y="392" width="3" height="10" fill="#c0c0c0"/>
<rect x="202" y="392" width="3" height="10" fill="#c0c0c0"/>
<rect x="210" y="392" width="3" height="8" fill="#c0c0c0"/>
<rect x="218" y="392" width="3" height="8" fill="#c0c0c0"/>
<rect x="226" y="392" width="3" height="12" fill="#c0c0c0"/>
<rect x="234" y="392" width="3" height="15" fill="#c0c0c0"/>
<rect x="242" y="392" width="3" height="18" fill="#c0c0c0"/>
<rect x="250" y="392" width="3" height="20" fill="#c0c0c0"/>
<rect x="258" y="392" width="3" height="24" fill="#c0c0c0"/>
<rect x="266" y="392" width="3" height="29" fill="#c0c0c0"/>
<rect x="274" y="392" width="3" height="33" fill="#c0c0c0"/>
<rect x="282" y="392" width="3" height="33" fill="#c0c0c0"/>
<rect x="290" y="392" width="3" height="36" fill="#c0c0c0"/>
<rect x="298" y="392" width="3" height="38" fill="#c0c0c0"/>
<rect x="306" y="392" width="3" height="41" fill="#c0c0c0"/>
<rect x="314" y="392" width="3" height="42" fill="#c0c0c0"/>
<rect x="322" y="392" width="3" height="45" fill="#c0c0c0"/>
<rect x="330" y="392" width="3" height="46" fill="#c0c0c0"/>
<rect x="338" y="392" width="3" height="42" fill="#c0c0c0"/>
<rect x="346" y="392" width="3" height="39" fill="#c0c0c0"/>
<rect x="354" y="392" width="3" height="37" fill="#c0c0c0"/>
<rect x="362" y="392" width="3" height="34" fill="#c0c0c0"/>
<rect x="370" y="392" width="3" height="31" fill="#c0c0c0"/>
<rect x="378" y="392" width="3" height="29" fill="#c0c0c0"/>
<rect x="386" y="392" width="3" height="27" fill="#c0c0c0"/>
<rect x="394" y="392" width="3" height="25" fill="#c0c0c0"/>
<rect x="402" y="392" width="3" height="24" fill="#c0c0c0"/>
<rect x="410" y="392" width="3" height="24" fill="#c0c0c0"/>
<rect x="418" y="392" width="3" height="21" fill="#c0c0c0"/>
<rect x="426" y="392" width="3" height="20" fill="#c0c0c0"/>
<rect x="434" y="392" width="3" height="18" fill="#c0c0c0"/>
<rect x="442" y="392" width="3" height="17" fill="#c0c0c0"/>
<rect x="450" y="392" width="3" height="16" fill="#c0c0c0"/>
<rect x="458" y="392" width="3" height="17" fill="#c0c0c0"/>
<rect x="466" y="392" width="3" height="16" fill="#c0c0c0"/>
<rect x="474" y="392" width="3" height="14" fill="#c0c0c0"/>
<rect x="482" y="392" width="3" height="14" fill="#c0c0c0"/>
<rect x="490" y="392" width="3" height="15" fill="#c0c0c0"/>
<rect x="498" y="392" width="3" height="15" fill="#c0c0c0"/>
<rect x="506" y="392" width="3" height="13" fill="#c0c0c0"/>
<rect x="514" y="392" width="3" height="11" fill="#c0c0c0"/>
<rect x="522" y="392" width="3" height="9" fill="#c0c0c0"/>
<rect x="530" y="392" width="3" height="8" fill="#c0c0c0"/>
<rect x="538" y="392" width="3" height="7" fill="#c0c0c0"/>
<rect x="546" y="392" width="3" height="4" fill="#c0c0c0"/>
<rect x="554" y="392" width="3" height="4" fill="#c0c0c0"/>
<rect x="562" y="392" width="3" height="2" fill="#c0c0c0"/>
<rect x="570" y="392" width="3" height="1" fill="#c0c0c0"/>
<rect x="578" y="391" width="3" height="1" fill="#c0c0c0"/>
<rect x="586" y="389" width="3" height="3" fill="#c0c0c0"/>
<rect x="594" y="391" width="3" height="1" fill="#c0c0c0"/>
<rect x="602" y="392" width="3" height="1" fill="#c0c0c0"/>
<rect x="610" y="392" width="3" height="1" fill="#c0c0c0"/>
<rect x="618" y="392" width="3" height="3" fill="#c0c0c0"/>
<rect x="626" y="392" width="3" height="1" fill="#c0c0c0"/>
<rect x="634" y="391" width="3" height="1" fill="#c0c0c0"/>
<rect x="642" y="391" width="3" height="1" fill="#c0c0c0"/>
<rect x="650" y="390" width="3" height="2" fill="#c0c0c0"/>
<rect x="658" y="386" width="3" height="6" fill="#c0c0c0"/>
<rect x="666" y="383" width="3" height="9" fill="#c0c0c0"/>
<rect x="674" y="382" width="3" height="10" fill="#c0c0c0"/>
<rect x="682" y="381" width="3" height="11" fill="#c0c0c0"/>
<rect x="690" y="381" width="3" height="11" fill="#c0c0c0"/>
<rect x="698" y="384" width="3" height="8" fill="#c0c0c0"/>
<rect x="706" y="386" width="3" height="6" fill="#c0c0c0"/>
<rect x="714" y="388" width="3" height="4" fill="#c0c0c0"/>
<rect x="722" y="389" width="3" height="3" fill="#c0c0c0"/>
<rect x="730" y="390" width="3" height="2" fill="#c0c0c0"/>
<rect x="738" y="392" width="3" height="1" fill="#c0c0c0"/>
<rect x="746" y="392" width="3" height="2" fill="#c0c0c0"/>
<rect x="754" y="392" width="3" height="6" fill="#c0c0c0"/>
<rect x="762" y="392" width="3" height="12" fill="#c0c0c0"/>
<rect x="770" y="392" width="3" height="17" fill="#c0c0c0"/>
<rect x="778" y="392" width="3" height="20" fill="#c0c0c0"/>
<rect x="786" y="392" width="3" height="20" fill="#c0c0c0"/>
<rect x="794" y="392" width="3" height="18" fill="#c0c0c0"/>
<rect x="802" y="392" width="3" height="15" fill="#c0c0c0"/>
<rect x="810" y="392" width="3" height="8" fill="#c0c0c0"/>
<rect x="818" y="392" width="3" height="2" fill="#c0c0c0"/>
<rect x="826" y="388" width="3" height="4" fill="#c0c0c0"/>
<rect x="834" y="384" width="3" height="8" fill="#c0c0c0"/>
<rect x="842" y="382" width="3" height="10" fill="#c0c0c0"/>
<rect x="850" y="381" width="3" height="11" fill="#c0c0c0"/>
<rect x="858" y="380" width="3" height="12" fill="#c0c0c0"/>
<rect x="866" y="383" width="3" height="9" fill="#c0c0c0"/>
<rect x="874" y="384" width="3" height="8" fill="#c0c0c0"/>
<rect x="882" y="387" width="3" height="5" fill="#c0c0c0"/>
<rect x="890" y="387" width="3" height="5" fill="#c0c0c0"/>
<rect x="898" y="387" width="3" height="5" fill="#c0c0c0"/>
<rect x="906" y="387" width="3" height="5" fill="#c0c0c0"/>
<path d="M719 384h10v1h-10zM886 384h22v1h-22zM693 385h26v1h-26zM729 385h4v1h-4zM882 385h4v1h-4zM688 386h5v1h-5zM733 386h10v1h-10zM878 386h4v1h-4zM683 387h5v1h-5zM743 387h5v1h-5zM873 387h5v1h-5zM675 388h8v1h-8zM748 388h5v1h-5zM869 388h4v1h-4zM668 389h7v1h-7zM753 389h5v1h-5zM865 389h4v1h-4zM663 390h5v1h-5zM758 390h4v1h-4zM862 390h3v1h-3zM658 391h5v1h-5zM762 391h2v1h-2zM859 391h3v1h-3zM622 392h36v1h-36zM764 392h3v1h-3zM857 392h2v1h-2zM598 393h24v1h-24zM767 393h2v1h-2zM855 393h2v1h-2zM593 394h5v1h-5zM769 394h3v1h-3zM853 394h2v1h-2zM588 395h5v1h-5zM772 395h3v1h-3zM851 395h2v1h-2zM583 396h5v1h-5zM775 396h4v1h-4zM849 396h2v1h-2zM577 397h6v1h-6zM779 397h3v1h-3zM845 397h4v1h-4zM570 398h7v1h-7zM782 398h3v1h-3zM842 398h3v1h-3zM145 399h64v1h-64zM564 399h6v1h-6zM785 399h4v1h-4zM839 399h3v1h-3zM138 400h7v1h-7zM209 400h24v1h-24zM557 400h7v1h-7zM789 400h3v1h-3zM837 400h2v1h-2zM133 401h5v1h-5zM233 401h5v1h-5zM550 401h7v1h-7zM792 401h3v1h-3zM834 401h3v1h-3zM128 402h5v1h-5zM238 402h6v1h-6zM544 402h6v1h-6zM795 402h4v1h-4zM832 402h2v1h-2zM123 403h5v1h-5zM244 403h8v1h-8zM535 403h9v1h-9zM799 403h5v1h-5zM826 403h6v1h-6zM118 404h5v1h-5zM252 404h6v1h-6zM525 404h10v1h-10zM804 404h22v1h-22zM113 405h5v1h-5zM258 405h5v1h-5zM517 405h8v1h-8zM108 406h5v1h-5zM263 406h4v1h-4zM509 406h8v1h-8zM103 407h5v1h-5zM267 407h2v1h-2zM488 407h21v1h-21zM98 408h5v1h-5zM269 408h3v1h-3zM483 408h5v1h-5zM94 409h4v1h-4zM272 409h2v1h-2zM473 409h10v1h-10zM90 410h4v1h-4zM274 410h3v1h-3zM462 410h11v1h-11zM86 411h4v1h-4zM277 411h3v1h-3zM454 411h8v1h-8zM82 412h4v1h-4zM280 412h4v1h-4zM449 412h5v1h-5zM77 413h5v1h-5zM284 413h3v1h-3zM447 413h2v1h-2zM69 414h8v1h-8zM287 414h2v1h-2zM443 414h4v1h-4zM3 415h2v1h-2zM63 415h6v1h-6zM289 415h3v1h-3zM438 415h5v1h-5zM5 416h4v1h-4zM58 416h5v1h-5zM292 416h2v1h-2zM433 416h5v1h-5zM9 417h49v1h-49zM294 417h3v1h-3zM428 417h5v1h-5zM297 418h2v1h-2zM424 418h4v1h-4zM299 419h3v1h-3zM420 419h4v1h-4zM302 420h3v1h-3zM416 420h4v1h-4zM305 421h3v1h-3zM412 421h4v1h-4zM308 422h3v1h-3zM409 422h3v1h-3zM311 423h3v1h-3zM405 423h4v1h-4zM314 424h3v1h-3zM401 424h4v1h-4zM317 425h2v1h-2zM397 425h4v1h-4zM319 426h3v1h-3zM393 426h4v1h-4zM322 427h2v1h-2zM389 427h4v1h-4zM324 428h4v1h-4zM385 428h4v1h-4zM328 429h5v1h-5zM381 429h4v1h-4zM333 430h5v1h-5zM377 430h4v1h-4zM338 431h15v1h-15zM371 431h6v1h-6zM353 432h18v1h-18z" fill="#ff0000"/>
</g>
<g clip-path="url(#crsi)">
<line x1="3" y1="463.5" x2="1149" y2="463.5" stroke="#c0c0c0" stroke-width="1" stroke-dasharray="3,3"/>
<line x1="3" y1="488.5" x2="1149" y2="488.5" stroke="#c0c0c0" stroke-width="1" stroke-dasharray="3,3"/>
<path d="M663 467h5v1h-5zM815 467h16v1h-16zM658 468h5v1h-5zM668 468h2v1h-2zM811 468h4v1h-4zM831 468h6v1h-6zM656 469h2v1h-2zM670 469h2v1h-2zM810 469h1v1h-1zM837 469h4v1h-4zM139 470h1v1h-1zM654 470h2v1h-2zM672 470h2v1h-2zM809 470h1v1h-1zM841 470h19v1h-19zM138 471h1v1h-1zM140 471h1v1h-1zM579 471h9v1h-9zM652 471h2v1h-2zM674 471h18v1h-18zM808 471h1v1h-1zM860 471h1v1h-1zM137 472h1v1h-1zM140 472h1v1h-1zM562 472h2v1h-2zM577 472h2v1h-2zM588 472h1v1h-1zM627 472h2v1h-2zM650 472h2v1h-2zM692 472h1v1h-1zM807 472h1v1h-1zM861 472h1v1h-1zM82 473h2v1h-2zM137 473h1v1h-1zM141 473h1v1h-1zM560 473h2v1h-2zM564 473h2v1h-2zM575 473h2v1h-2zM589 473h2v1h-2zM626 473h1v1h-1zM629 473h4v1h-4zM648 473h2v1h-2zM693 473h1v1h-1zM806 473h1v1h-1zM862 473h1v1h-1zM79 474h3v1h-3zM84 474h2v1h-2zM136 474h1v1h-1zM142 474h1v1h-1zM545 474h4v1h-4zM558 474h2v1h-2zM566 474h2v1h-2zM574 474h1v1h-1zM591 474h1v1h-1zM625 474h1v1h-1zM633 474h4v1h-4zM646 474h2v1h-2zM694 474h1v1h-1zM805 474h1v1h-1zM863 474h1v1h-1zM874 474h2v1h-2zM897 474h11v1h-11zM77 475h2v1h-2zM86 475h2v1h-2zM97 475h11v1h-11zM135 475h1v1h-1zM143 475h1v1h-1zM541 475h4v1h-4zM549 475h4v1h-4zM556 475h2v1h-2zM568 475h2v1h-2zM572 475h2v1h-2zM592 475h1v1h-1zM623 475h2v1h-2zM637 475h4v1h-4zM644 475h2v1h-2zM695 475h1v1h-1zM804 475h1v1h-1zM864 475h1v1h-1zM872 475h2v1h-2zM876 475h2v1h-2zM893 475h4v1h-4zM73 476h4v1h-4zM88 476h2v1h-2zM93 476h4v1h-4zM108 476h2v1h-2zM134 476h1v1h-1zM143 476h1v1h-1zM178 476h2v1h-2zM217 476h3v1h-3zM419 476h1v1h-1zM474 476h2v1h-2zM514 476h27v1h-27zM553 476h3v1h-3zM570 476h2v1h-2zM593 476h2v1h-2zM610 476h3v1h-3zM622 476h1v1h-1zM641 476h3v1h-3zM696 476h1v1h-1zM706 476h2v1h-2zM722 476h11v1h-11zM801 476h3v1h-3zM865 476h1v1h-1zM870 476h2v1h-2zM878 476h1v1h-1zM890 476h3v1h-3zM69 477h4v1h-4zM90 477h3v1h-3zM110 477h2v1h-2zM133 477h1v1h-1zM144 477h1v1h-1zM162 477h3v1h-3zM176 477h2v1h-2zM180 477h2v1h-2zM213 477h4v1h-4zM220 477h1v1h-1zM418 477h1v1h-1zM420 477h2v1h-2zM471 477h3v1h-3zM476 477h1v1h-1zM511 477h3v1h-3zM595 477h2v1h-2zM608 477h2v1h-2zM613 477h2v1h-2zM621 477h1v1h-1zM697 477h1v1h-1zM703 477h3v1h-3zM708 477h2v1h-2zM720 477h2v1h-2zM733 477h2v1h-2zM797 477h4v1h-4zM866 477h1v1h-1zM868 477h2v1h-2zM879 477h2v1h-2zM887 477h3v1h-3zM65 478h4v1h-4zM112 478h2v1h-2zM133 478h1v1h-1zM145 478h1v1h-1zM160 478h2v1h-2zM165 478h2v1h-2zM174 478h2v1h-2zM182 478h2v1h-2zM207 478h6v1h-6zM221 478h1v1h-1zM417 478h1v1h-1zM422 478h2v1h-2zM469 478h2v1h-2zM477 478h2v1h-2zM509 478h2v1h-2zM597 478h2v1h-2zM606 478h2v1h-2zM615 478h3v1h-3zM620 478h1v1h-1zM698 478h1v1h-1zM701 478h2v1h-2zM710 478h2v1h-2zM718 478h2v1h-2zM735 478h3v1h-3zM793 478h4v1h-4zM867 478h1v1h-1zM881 478h2v1h-2zM885 478h2v1h-2zM61 479h4v1h-4zM114 479h5v1h-5zM132 479h1v1h-1zM146 479h1v1h-1zM158 479h2v1h-2zM167 479h3v1h-3zM172 479h2v1h-2zM184 479h2v1h-2zM199 479h8v1h-8zM222 479h1v1h-1zM415 479h2v1h-2zM424 479h2v1h-2zM431 479h14v1h-14zM466 479h3v1h-3zM479 479h1v1h-1zM503 479h6v1h-6zM599 479h3v1h-3zM604 479h2v1h-2zM618 479h2v1h-2zM699 479h2v1h-2zM712 479h2v1h-2zM716 479h2v1h-2zM738 479h5v1h-5zM789 479h4v1h-4zM883 479h2v1h-2zM47 480h14v1h-14zM119 480h13v1h-13zM146 480h1v1h-1zM156 480h2v1h-2zM170 480h2v1h-2zM186 480h13v1h-13zM223 480h1v1h-1zM362 480h13v1h-13zM414 480h1v1h-1zM426 480h5v1h-5zM445 480h2v1h-2zM464 480h2v1h-2zM480 480h1v1h-1zM498 480h5v1h-5zM602 480h2v1h-2zM714 480h2v1h-2zM743 480h5v1h-5zM787 480h2v1h-2zM35 481h12v1h-12zM147 481h9v1h-9zM224 481h1v1h-1zM359 481h3v1h-3zM375 481h22v1h-22zM413 481h1v1h-1zM447 481h3v1h-3zM462 481h2v1h-2zM481 481h2v1h-2zM495 481h3v1h-3zM748 481h2v1h-2zM786 481h1v1h-1zM34 482h1v1h-1zM225 482h1v1h-1zM357 482h2v1h-2zM397 482h4v1h-4zM412 482h1v1h-1zM450 482h5v1h-5zM460 482h2v1h-2zM483 482h4v1h-4zM493 482h2v1h-2zM750 482h2v1h-2zM785 482h1v1h-1zM33 483h1v1h-1zM226 483h1v1h-1zM339 483h18v1h-18zM401 483h11v1h-11zM455 483h5v1h-5zM487 483h6v1h-6zM752 483h2v1h-2zM784 483h1v1h-1zM32 484h1v1h-1zM227 484h2v1h-2zM338 484h1v1h-1zM754 484h2v1h-2zM783 484h1v1h-1zM31 485h1v1h-1zM229 485h4v1h-4zM337 485h1v1h-1zM756 485h2v1h-2zM782 485h1v1h-1zM3 486h4v1h-4zM31 486h1v1h-1zM233 486h19v1h-19zM336 486h1v1h-1zM758 486h2v1h-2zM781 486h1v1h-1zM7 487h6v1h-6zM30 487h1v1h-1zM252 487h2v1h-2zM283 487h2v1h-2zM335 487h1v1h-1zM760 487h2v1h-2zM780 487h1v1h-1zM13 488h9v1h-9zM29 488h1v1h-1zM254 488h2v1h-2zM281 488h2v1h-2zM285 488h2v1h-2zM335 488h1v1h-1zM762 488h18v1h-18zM22 489h4v1h-4zM28 489h1v1h-1zM256 489h2v1h-2zM279 489h2v1h-2zM287 489h3v1h-3zM334 489h1v1h-1zM26 490h2v1h-2zM258 490h3v1h-3zM278 490h1v1h-1zM290 490h13v1h-13zM333 490h1v1h-1zM261 491h4v1h-4zM276 491h2v1h-2zM303 491h14v1h-14zM332 491h1v1h-1zM265 492h11v1h-11zM317 492h4v1h-4zM327 492h5v1h-5zM321 493h6v1h-6z" fill="#1e90ff"/>
</g>
<path d="M6,31 L13,31 L9.5,35 Z" fill="#000"/>
<text transform="translate(18.00,0) scale(0.88,1)" x="0" y="36" fill="#000" stroke="#000" style="font-size:10px" textLength="76.14" lengthAdjust="spacing">EURUSD-,Daily</text>
<text transform="translate(92.00,0) scale(0.88,1)" x="0" y="36" fill="#000" stroke="#000" style="font-size:10px" textLength="159.09" lengthAdjust="spacing">1.13720 1.13849 1.13222 1.13665</text>
<text transform="translate(8.00,0) scale(0.88,1)" x="0" y="389" fill="#000" stroke="#000" style="font-size:10px" textLength="167.05" lengthAdjust="spacing">MACD(12,26,9) 0.001148 0.001830</text>
<text transform="translate(8.00,0) scale(0.88,1)" x="0" y="455" fill="#000" stroke="#000" style="font-size:10px" textLength="76.14" lengthAdjust="spacing">RSI(14) 52.0259</text>
<rect x="1150" y="41" width="2" height="1" fill="#000"/>
<text transform="translate(1156.00,0) scale(0.88,1)" x="0" y="45" fill="#000" stroke="#000" style="font-size:10px" textLength="36.36" lengthAdjust="spacing">1.16925</text>
<rect x="1150" y="74" width="2" height="1" fill="#000"/>
<text transform="translate(1156.00,0) scale(0.88,1)" x="0" y="78" fill="#000" stroke="#000" style="font-size:10px" textLength="36.36" lengthAdjust="spacing">1.16340</text>
<rect x="1150" y="107" width="2" height="1" fill="#000"/>
<text transform="translate(1156.00,0) scale(0.88,1)" x="0" y="111" fill="#000" stroke="#000" style="font-size:10px" textLength="36.36" lengthAdjust="spacing">1.15755</text>
<rect x="1150" y="140" width="2" height="1" fill="#000"/>
<text transform="translate(1156.00,0) scale(0.88,1)" x="0" y="144" fill="#000" stroke="#000" style="font-size:10px" textLength="36.36" lengthAdjust="spacing">1.15185</text>
<rect x="1150" y="173" width="2" height="1" fill="#000"/>
<text transform="translate(1156.00,0) scale(0.88,1)" x="0" y="177" fill="#000" stroke="#000" style="font-size:10px" textLength="36.36" lengthAdjust="spacing">1.14600</text>
<rect x="1150" y="206" width="2" height="1" fill="#000"/>
<text transform="translate(1156.00,0) scale(0.88,1)" x="0" y="210" fill="#000" stroke="#000" style="font-size:10px" textLength="36.36" lengthAdjust="spacing">1.14015</text>
<rect x="1150" y="239" width="2" height="1" fill="#000"/>
<text transform="translate(1156.00,0) scale(0.88,1)" x="0" y="243" fill="#000" stroke="#000" style="font-size:10px" textLength="36.36" lengthAdjust="spacing">1.13430</text>
<rect x="1150" y="272" width="2" height="1" fill="#000"/>
<text transform="translate(1156.00,0) scale(0.88,1)" x="0" y="276" fill="#000" stroke="#000" style="font-size:10px" textLength="36.36" lengthAdjust="spacing">1.12845</text>
<rect x="1150" y="305" width="2" height="1" fill="#000"/>
<text transform="translate(1156.00,0) scale(0.88,1)" x="0" y="309" fill="#000" stroke="#000" style="font-size:10px" textLength="36.36" lengthAdjust="spacing">1.12260</text>
<rect x="1150" y="338" width="2" height="1" fill="#000"/>
<text transform="translate(1156.00,0) scale(0.88,1)" x="0" y="342" fill="#000" stroke="#000" style="font-size:10px" textLength="36.36" lengthAdjust="spacing">1.11690</text>
<rect x="1150" y="371" width="2" height="1" fill="#000"/>
<text transform="translate(1156.00,0) scale(0.88,1)" x="0" y="375" fill="#000" stroke="#000" style="font-size:10px" textLength="36.37" lengthAdjust="spacing">1.11105</text>
<rect x="1151" y="127" width="38" height="11" fill="#ff0000"/>
<text transform="translate(1156.00,0) scale(0.88,1)" x="0" y="136" fill="#fff" stroke="#fff" style="font-size:10px" textLength="36.36" lengthAdjust="spacing">1.15300</text>
<rect x="1151" y="200" width="38" height="11" fill="#ff0000"/>
<text transform="translate(1156.00,0) scale(0.88,1)" x="0" y="209" fill="#fff" stroke="#fff" style="font-size:10px" textLength="36.36" lengthAdjust="spacing">1.14016</text>
<rect x="1151" y="221" width="38" height="11" fill="#000000"/>
<text transform="translate(1156.00,0) scale(0.88,1)" x="0" y="230" fill="#fff" stroke="#fff" style="font-size:10px" textLength="36.36" lengthAdjust="spacing">1.13665</text>
<rect x="1151" y="268" width="38" height="11" fill="#00ff00"/>
<text transform="translate(1156.00,0) scale(0.88,1)" x="0" y="277" fill="#fff" stroke="#fff" style="font-size:10px" textLength="36.36" lengthAdjust="spacing">1.12816</text>
<rect x="1151" y="348" width="38" height="11" fill="#0000ff"/>
<text transform="translate(1156.00,0) scale(0.88,1)" x="0" y="357" fill="#fff" stroke="#fff" style="font-size:10px" textLength="36.36" lengthAdjust="spacing">1.11404</text>
<rect x="1150" y="378" width="1" height="1" fill="#000"/>
<rect x="1150" y="392" width="1" height="1" fill="#000"/>
<rect x="1150" y="439" width="1" height="1" fill="#000"/>
<text transform="translate(1153.00,0) scale(0.88,1)" x="0" y="387" fill="#000" stroke="#000" style="font-size:10px" textLength="43.18" lengthAdjust="spacing">0.003331</text>
<text transform="translate(1153.00,0) scale(0.88,1)" x="0" y="396" fill="#000" stroke="#000" style="font-size:10px" textLength="20.46" lengthAdjust="spacing">0.00</text>
<text transform="translate(1153.00,0) scale(0.88,1)" x="0" y="437" fill="#000" stroke="#000" style="font-size:10px" textLength="42.04" lengthAdjust="spacing">-0.01043</text>
<rect x="1150" y="444" width="1" height="1" fill="#000"/>
<rect x="1150" y="507" width="1" height="1" fill="#000"/>
<text transform="translate(1154.00,0) scale(0.88,1)" x="0" y="453" fill="#000" stroke="#000" style="font-size:10px" textLength="15.91" lengthAdjust="spacing">100</text>
<text transform="translate(1152.00,0) scale(0.88,1)" x="0" y="467" fill="#000" stroke="#000" style="font-size:10px" textLength="11.37" lengthAdjust="spacing">70</text>
<text transform="translate(1152.00,0) scale(0.88,1)" x="0" y="492" fill="#000" stroke="#000" style="font-size:10px" textLength="12.50" lengthAdjust="spacing">30</text>
<text transform="translate(1153.00,0) scale(0.88,1)" x="0" y="505" fill="#000" stroke="#000" style="font-size:10px" textLength="5.68" lengthAdjust="spacing">0</text>
<rect x="3" y="509" width="1" height="3" fill="#000"/>
<text transform="translate(2.00,0) scale(0.88,1)" x="0" y="521" fill="#000" stroke="#000" style="font-size:10px" textLength="52.27" lengthAdjust="spacing">8 Oct 2021</text>
<rect x="67" y="509" width="1" height="3" fill="#000"/>
<text transform="translate(66.00,0) scale(0.88,1)" x="0" y="521" fill="#000" stroke="#000" style="font-size:10px" textLength="57.96" lengthAdjust="spacing">18 Oct 2021</text>
<rect x="131" y="509" width="1" height="3" fill="#000"/>
<text transform="translate(130.00,0) scale(0.88,1)" x="0" y="521" fill="#000" stroke="#000" style="font-size:10px" textLength="57.96" lengthAdjust="spacing">27 Oct 2021</text>
<rect x="195" y="509" width="1" height="3" fill="#000"/>
<text transform="translate(194.00,0) scale(0.88,1)" x="0" y="521" fill="#000" stroke="#000" style="font-size:10px" textLength="54.54" lengthAdjust="spacing">5 Nov 2021</text>
<rect x="259" y="509" width="1" height="3" fill="#000"/>
<text transform="translate(258.00,0) scale(0.88,1)" x="0" y="521" fill="#000" stroke="#000" style="font-size:10px" textLength="60.23" lengthAdjust="spacing">15 Nov 2021</text>
<rect x="323" y="509" width="1" height="3" fill="#000"/>
<text transform="translate(322.00,0) scale(0.88,1)" x="0" y="521" fill="#000" stroke="#000" style="font-size:10px" textLength="60.23" lengthAdjust="spacing">24 Nov 2021</text>
<rect x="387" y="509" width="1" height="3" fill="#000"/>
<text transform="translate(386.00,0) scale(0.88,1)" x="0" y="521" fill="#000" stroke="#000" style="font-size:10px" textLength="54.54" lengthAdjust="spacing">3 Dec 2021</text>
<rect x="451" y="509" width="1" height="3" fill="#000"/>
<text transform="translate(450.00,0) scale(0.88,1)" x="0" y="521" fill="#000" stroke="#000" style="font-size:10px" textLength="60.23" lengthAdjust="spacing">13 Dec 2021</text>
<rect x="515" y="509" width="1" height="3" fill="#000"/>
<text transform="translate(514.00,0) scale(0.88,1)" x="0" y="521" fill="#000" stroke="#000" style="font-size:10px" textLength="60.23" lengthAdjust="spacing">22 Dec 2021</text>
<rect x="579" y="509" width="1" height="3" fill="#000"/>
<text transform="translate(578.00,0) scale(0.88,1)" x="0" y="521" fill="#000" stroke="#000" style="font-size:10px" textLength="60.23" lengthAdjust="spacing">31 Dec 2021</text>
<rect x="643" y="509" width="1" height="3" fill="#000"/>
<text transform="translate(642.00,0) scale(0.88,1)" x="0" y="521" fill="#000" stroke="#000" style="font-size:10px" textLength="59.09" lengthAdjust="spacing">10 Jan 2022</text>
<rect x="707" y="509" width="1" height="3" fill="#000"/>
<text transform="translate(706.00,0) scale(0.88,1)" x="0" y="521" fill="#000" stroke="#000" style="font-size:10px" textLength="59.09" lengthAdjust="spacing">19 Jan 2022</text>
<rect x="771" y="509" width="1" height="3" fill="#000"/>
<text transform="translate(770.00,0) scale(0.88,1)" x="0" y="521" fill="#000" stroke="#000" style="font-size:10px" textLength="59.09" lengthAdjust="spacing">28 Jan 2022</text>
<rect x="835" y="509" width="1" height="3" fill="#000"/>
<text transform="translate(834.00,0) scale(0.88,1)" x="0" y="521" fill="#000" stroke="#000" style="font-size:10px" textLength="53.41" lengthAdjust="spacing">7 Feb 2022</text>
<rect x="899" y="509" width="1" height="3" fill="#000"/>
<text transform="translate(898.00,0) scale(0.88,1)" x="0" y="521" fill="#000" stroke="#000" style="font-size:10px" textLength="60.22" lengthAdjust="spacing">16 Feb 2022</text>
<rect x="0" y="529" width="1189" height="1" fill="#e6e6e6"/>
<rect x="0" y="530" width="1189" height="1" fill="#ffffff"/>
<rect x="0" y="531" width="1189" height="1" fill="#000000"/>
<rect x="0" y="532" width="1189" height="1" fill="#fafafa"/>
<rect x="0" y="533" width="1189" height="18" fill="#f0f0f0"/>
<rect x="0" y="551" width="1189" height="1" fill="#ffffff"/>
<rect x="0" y="552" width="1189" height="2" fill="#f0f0f0"/>
<rect x="104" y="531" width="108" height="19" fill="#000"/>
<rect x="105" y="531" width="106" height="18" fill="#ffffff"/>
<text x="16.00" y="546" fill="#6e6e6e" style="font-size:12.5px" textLength="77.01" lengthAdjust="spacing">USDX,Weekly</text>
<text x="115.00" y="546" fill="#000" style="font-size:12.5px" textLength="85.00" lengthAdjust="spacing">EURUSD-,Daily</text>
<text x="222.00" y="546" fill="#6e6e6e" style="font-size:12.5px" textLength="75.00" lengthAdjust="spacing">AUDUSD-,H4</text>
<text x="320.00" y="546" fill="#6e6e6e" style="font-size:12.5px" textLength="84.00" lengthAdjust="spacing">USDCHF-,Daily</text>
<text x="427.00" y="546" fill="#6e6e6e" style="font-size:12.5px" textLength="86.00" lengthAdjust="spacing">USDCAD-,Daily</text>
<text x="537.00" y="546" fill="#6e6e6e" style="font-size:12.5px" textLength="87.00" lengthAdjust="spacing">USDCNH-,Daily</text>
<text x="647.00" y="546" fill="#6e6e6e" style="font-size:12.5px" textLength="86.00" lengthAdjust="spacing">XAUUSD-,Daily</text>
<text x="755.00" y="546" fill="#6e6e6e" style="font-size:12.5px" textLength="69.00" lengthAdjust="spacing">UKOil-,Daily</text>
<text x="848.00" y="546" fill="#6e6e6e" style="font-size:12.5px" textLength="64.00" lengthAdjust="spacing">DJ30-,Daily</text>
<text x="935.00" y="546" fill="#6e6e6e" style="font-size:12.5px" textLength="62.00" lengthAdjust="spacing">UK100-,H1</text>
<rect x="308" y="534" width="1" height="14" fill="#707070"/>
<rect x="416" y="534" width="1" height="14" fill="#707070"/>
<rect x="524" y="534" width="1" height="14" fill="#707070"/>
<rect x="636" y="534" width="1" height="14" fill="#707070"/>
<rect x="744" y="534" width="1" height="14" fill="#707070"/>
<rect x="836" y="534" width="1" height="14" fill="#707070"/>
<rect x="924" y="534" width="1" height="14" fill="#707070"/>
<rect x="1008" y="534" width="1" height="14" fill="#707070"/>
<path d="M1168,538 L1168,545 L1164.5,541.5 Z" fill="#a0a0a0"/>
<path d="M1183,538 L1183,545 L1186.5,541.5 Z" fill="#a0a0a0"/>
</svg>
</body></html>
